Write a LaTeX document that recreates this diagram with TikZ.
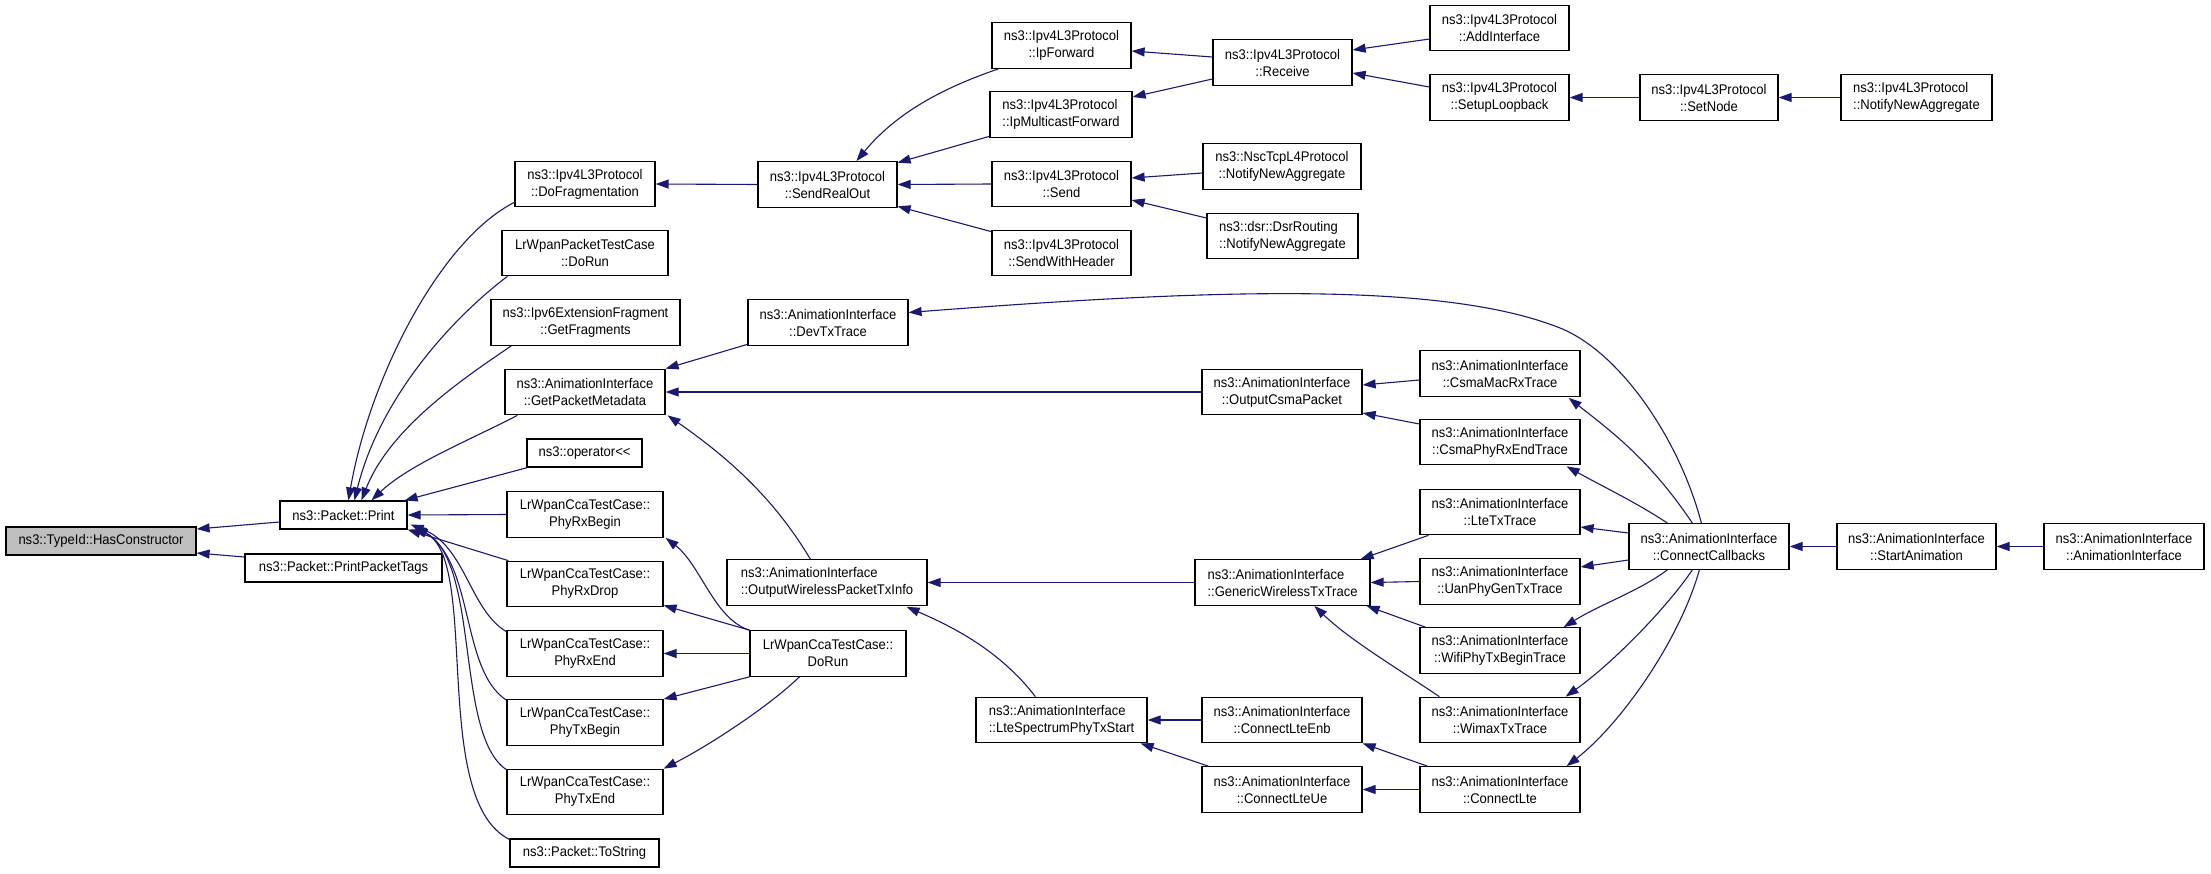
\documentclass[tikz,border=0pt]{standalone}
\usepackage{fontspec}
\setmainfont{Liberation Sans}[FakeStretch=0.93, Ligatures=TeXOff]
\usetikzlibrary{arrows.meta,calc}
\definecolor{edgeblue}{HTML}{191970}
\definecolor{rootfill}{HTML}{BFBFBF}
\begin{document}
\begin{tikzpicture}[x=1bp,y=-1bp,
  fn/.style={draw=black, line width=1.2bp, fill=white, inner sep=0pt, minimum height=45.5bp, font=\fontsize{14bp}{17bp}\selectfont, align=center},
  one/.style={fn, minimum height=28bp},
  lft/.style={align=left},
  edge/.style={draw=edgeblue, line width=1.1bp, -{Triangle[length=13bp,width=9bp]}}]
\useasboundingbox (0,0) rectangle (2211,873);

% column 0/1
\node[one, fill=rootfill, minimum width=190bp] (has) at (101,541) {ns3::TypeId::HasConstructor};
\node[one, minimum width=127bp] (print) at (343.5,515) {ns3::Packet::Print};
\node[one, minimum width=197bp] (ppt) at (343.5,568) {ns3::Packet::PrintPacketTags};

% column 2
\node[fn, minimum width=140bp] (dofrag) at (585,184) {ns3::Ipv4L3Protocol\\::DoFragmentation};
\node[fn, minimum width=166bp] (lrpkt) at (585,253) {LrWpanPacketTestCase\\::DoRun};
\node[fn, minimum width=189bp] (ipv6) at (585.5,322.5) {ns3::Ipv6ExtensionFragment\\::GetFragments};
\node[fn, minimum width=160bp] (gpm) at (585,392) {ns3::AnimationInterface\\::GetPacketMetadata};
\node[one, minimum width=115bp] (opl) at (584.5,453) {ns3::operator<<};
\node[fn, minimum width=156bp] (rxb) at (585,514.5) {LrWpanCcaTestCase::\\PhyRxBegin};
\node[fn, minimum width=156bp] (rxd) at (585,584) {LrWpanCcaTestCase::\\PhyRxDrop};
\node[fn, minimum width=156bp] (rxe) at (585,653.5) {LrWpanCcaTestCase::\\PhyRxEnd};
\node[fn, minimum width=156bp] (txb) at (585,722.5) {LrWpanCcaTestCase::\\PhyTxBegin};
\node[fn, minimum width=156bp] (txe) at (585,792) {LrWpanCcaTestCase::\\PhyTxEnd};
\node[one, minimum width=149bp] (tostr) at (584.5,853) {ns3::Packet::ToString};

% column 3
\node[fn, minimum width=139bp] (sro) at (827.5,184.5) {ns3::Ipv4L3Protocol\\::SendRealOut};
\node[fn, minimum width=160bp] (devtx) at (828,322.5) {ns3::AnimationInterface\\::DevTxTrace};
\node[fn, lft, minimum width=200bp] (owp) at (827,582.5) {ns3::AnimationInterface\\::OutputWirelessPacketTxInfo};
\node[fn, minimum width=156bp] (ccadorun) at (828,653.5) {LrWpanCcaTestCase::\\DoRun};

% column 4
\node[fn, minimum width=139bp] (ipf) at (1061.5,45.5) {ns3::Ipv4L3Protocol\\::IpForward};
\node[fn, lft, minimum width=142bp] (ipmf) at (1061,114.5) {ns3::Ipv4L3Protocol\\::IpMulticastForward};
\node[fn, minimum width=139bp] (send) at (1061.5,184) {ns3::Ipv4L3Protocol\\::Send};
\node[fn, minimum width=139bp] (swh) at (1061.5,253) {ns3::Ipv4L3Protocol\\::SendWithHeader};
\node[fn, lft, minimum width=171bp] (lstx) at (1061.5,720) {ns3::AnimationInterface\\::LteSpectrumPhyTxStart};

% column 5
\node[fn, minimum width=139bp] (recv) at (1282.5,62.5) {ns3::Ipv4L3Protocol\\::Receive};
\node[fn, minimum width=158bp] (nsc) at (1282,166.5) {ns3::NscTcpL4Protocol\\::NotifyNewAggregate};
\node[fn, lft, minimum width=151bp] (dsr) at (1282.5,236) {ns3::dsr::DsrRouting\\::NotifyNewAggregate};
\node[fn, minimum width=160bp] (ocsma) at (1282,392) {ns3::AnimationInterface\\::OutputCsmaPacket};
\node[fn, lft, minimum width=175bp] (gwt) at (1282.5,582.5) {ns3::AnimationInterface\\::GenericWirelessTxTrace};
\node[fn, minimum width=160bp] (clenb) at (1282,720) {ns3::AnimationInterface\\::ConnectLteEnb};
\node[fn, minimum width=160bp] (clue) at (1282,789.5) {ns3::AnimationInterface\\::ConnectLteUe};

% column 6
\node[fn, minimum width=139bp] (addif) at (1499.5,28) {ns3::Ipv4L3Protocol\\::AddInterface};
\node[fn, minimum width=139bp] (loop) at (1499.5,97.5) {ns3::Ipv4L3Protocol\\::SetupLoopback};
\node[fn, minimum width=160bp] (cmac) at (1500,373.5) {ns3::AnimationInterface\\::CsmaMacRxTrace};
\node[fn, minimum width=160bp] (cphy) at (1500,442) {ns3::AnimationInterface\\::CsmaPhyRxEndTrace};
\node[fn, minimum width=160bp] (ltetx) at (1500,512) {ns3::AnimationInterface\\::LteTxTrace};
\node[fn, minimum width=160bp] (uan) at (1500,581.5) {ns3::AnimationInterface\\::UanPhyGenTxTrace};
\node[fn, minimum width=160bp] (wifi) at (1500,650.5) {ns3::AnimationInterface\\::WifiPhyTxBeginTrace};
\node[fn, minimum width=160bp] (wimax) at (1500,720) {ns3::AnimationInterface\\::WimaxTxTrace};
\node[fn, minimum width=160bp] (clte) at (1500,789.5) {ns3::AnimationInterface\\::ConnectLte};

% columns 7-9
\node[fn, minimum width=138bp] (setnode) at (1709,97.5) {ns3::Ipv4L3Protocol\\::SetNode};
\node[fn, lft, minimum width=151bp] (nna) at (1916.5,97.5) {ns3::Ipv4L3Protocol\\::NotifyNewAggregate};
\node[fn, minimum width=160bp] (ccb) at (1709,546.5) {ns3::AnimationInterface\\::ConnectCallbacks};
\node[fn, minimum width=159bp] (start) at (1916.5,546.5) {ns3::AnimationInterface\\::StartAnimation};
\node[fn, minimum width=160bp] (ai) at (2124,546.5) {ns3::AnimationInterface\\::AnimationInterface};

% edges into HasConstructor
\draw[edge] ($(print.west)+(0,7)$) -- ($(has.east)+(0,-12)$);
\draw[edge] ($(ppt.west)+(0,-11)$) -- ($(has.east)+(0,12)$);

% edges into Packet::Print
\draw[edge] ($(dofrag.south west)+(0,-5)$) .. controls +(-75,38) and +(21,-121) .. ($(print.north west)+(69,0)$);
\draw[edge] ($(lrpkt.south west)+(6,0)$) .. controls +(-58,44) and +(25,-101) .. ($(print.north west)+(75,0)$);
\draw[edge] ($(ipv6.south west)+(21,0)$) .. controls +(-52,35) and +(28,-71) .. ($(print.north west)+(82,0)$);
\draw[edge] ($(gpm.south west)+(13,0)$) .. controls +(-48,25) and +(38,-36) .. ($(print.north west)+(92,0)$);
\draw[edge] ($(opl.south west)+(1,0)$) -- ($(print.north east)+(-3,0)$);
\draw[edge] (rxb.west) -- (print.east);
\draw[edge] ($(rxd.north west)+(2,0)$) -- (print.south east);
\draw[edge] ($(rxe.north west)+(0,1.5)$) .. controls +(-37,-22) and +(55,21) .. ($(print.south east)+(3,-5)$);
\draw[edge] ($(txb.north west)+(0,1)$) .. controls +(-47,-31) and +(63,35) .. ($(print.south east)+(5,-4)$);
\draw[edge] ($(txe.north west)+(0,1)$) .. controls +(-52,-35) and +(67,34) .. ($(print.south east)+(6,-3)$);
\draw[edge] ($(tostr.north west)+(0,1)$) .. controls +(-80,-40) and +(66,33) .. ($(print.south east)+(7,-2)$);

% Ipv4 part
\draw[edge] (sro.west) -- (dofrag.east);
\draw[edge] ($(ipf.south west)+(7,0)$) .. controls +(-49,17) and +(43,-52) .. ($(sro.north west)+(99,0)$);
\draw[edge] ($(ipmf.south west)+(0,-1.5)$) -- ($(sro.north east)+(0,1.5)$);
\draw[edge] (send.west) -- (sro.east);
\draw[edge] ($(swh.north west)+(0,2)$) -- ($(sro.south east)+(0,-1.5)$);
\draw[edge] ($(recv.west)+(0,-5.5)$) -- ($(ipf.east)+(0,5.5)$);
\draw[edge] ($(recv.west)+(0,16.5)$) -- ($(ipmf.east)+(0,-17.5)$);
\draw[edge] ($(addif.west)+(0,11)$) -- ($(recv.east)+(0,-12.5)$);
\draw[edge] ($(loop.west)+(0,-10.5)$) -- ($(recv.east)+(0,10.5)$);
\draw[edge] (setnode.west) -- (loop.east);
\draw[edge] (nna.west) -- (setnode.east);
\draw[edge] ($(nsc.west)+(0,6.5)$) -- ($(send.east)+(0,-6)$);
\draw[edge] ($(dsr.west)+(0,-18)$) -- ($(send.east)+(0,16)$);

% GetPacketMetadata part
\draw[edge] ($(devtx.south west)+(0,-1.5)$) -- (gpm.north east);
\draw[edge] (ocsma.west) -- (gpm.east);
\draw[edge] ($(owp.north west)+(84,0)$) .. controls +(-36,-60) and +(63,44) .. ($(gpm.south east)+(2,0)$);
\draw[edge] ($(ccb.north west)+(73,0)$) .. controls +(-22,-84) and +(60,24) .. (1560,328)
   .. controls (1440,280) and (1200,290) .. ($(devtx.east)+(0,-10)$);
\draw[edge] ($(cmac.west)+(0,6.5)$) -- ($(ocsma.east)+(0,-7)$);
\draw[edge] ($(cphy.west)+(0,-18)$) -- ($(ocsma.east)+(0,21)$);

% ConnectCallbacks fan
\draw[edge] ($(ccb.north west)+(64,0)$) .. controls +(-43,-64) and +(42,33) .. ($(cmac.south east)+(-12,1)$);
\draw[edge] ($(ccb.north west)+(39,0)$) .. controls +(-28,-19) and +(34,19) .. ($(cphy.south east)+(-14,1)$);
\draw[edge] ($(ccb.west)+(0,-13.5)$) -- ($(ltetx.east)+(0,15)$);
\draw[edge] ($(ccb.west)+(0,13.5)$) -- ($(uan.east)+(0,-14.5)$);
\draw[edge] ($(ccb.south west)+(39,0)$) .. controls +(-28,21) and +(37,-23) .. ($(wifi.north east)+(-17,0)$);
\draw[edge] ($(ccb.south west)+(64,0)$) .. controls +(-28,41) and +(45,-32) .. ($(wimax.north east)+(-15,0)$);
\draw[edge] ($(ccb.south west)+(71,0)$) .. controls +(-20,71) and +(54,-42) .. ($(clte.north east)+(-14,0)$);
\draw[edge] (start.west) -- (ccb.east);
\draw[edge] (ai.west) -- (start.east);

% wireless part
\draw[edge] (gwt.west) -- (owp.east);
\draw[edge] ($(lstx.north west)+(60,0)$) .. controls +(-36,-47) and +(44,19) .. ($(owp.south east)+(-21,1)$);
\draw[edge] ($(ltetx.south west)+(9,0)$) -- ($(gwt.north east)+(-10,0)$);
\draw[edge] (uan.west) -- (gwt.east);
\draw[edge] ($(wifi.north west)+(6,0)$) -- ($(gwt.south east)+(-4,0)$);
\draw[edge] ($(wimax.north west)+(20,0)$) .. controls +(-40,-27) and +(35,34) .. ($(gwt.south west)+(120,0)$);
\draw[edge] (clenb.west) -- (lstx.east);
\draw[edge] ($(clue.north west)+(7,0)$) -- ($(lstx.south east)+(-7,0)$);
\draw[edge] ($(clte.north west)+(8,0)$) -- (clenb.south east);
\draw[edge] (clte.west) -- (clue.east);

% LrWpanCcaTestCase::DoRun
\draw[edge] (ccadorun.north west) .. controls +(-35,-11) and +(35,27) .. ($(rxb.south east)+(2,0)$);
\draw[edge] (ccadorun.north west) -- ($(rxd.south east)+(0,-2)$);
\draw[edge] (ccadorun.west) -- (rxe.east);
\draw[edge] (ccadorun.south west) -- (txb.north east);
\draw[edge] ($(ccadorun.south west)+(50,0)$) .. controls +(-30,29) and +(47,-24) .. (txe.north east);
\end{tikzpicture}
\end{document}
